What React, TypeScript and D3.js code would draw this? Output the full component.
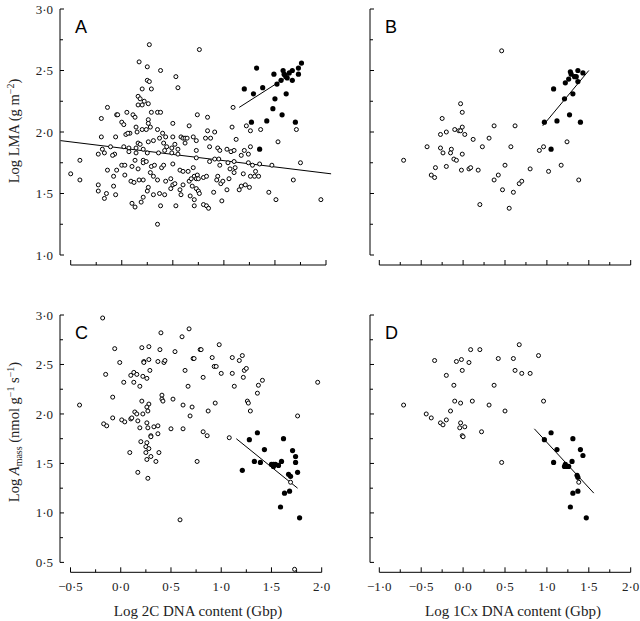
import React from "react";
import * as d3 from "d3";

type P = [number, number];

// ---- Tick values ----
const xTicks2C = [-0.5, -0.25, 0, 0.25, 0.5, 0.75, 1, 1.25, 1.5, 1.75, 2];
const xTicks1Cx = [-1, -0.75, -0.5, -0.25, 0, 0.25, 0.5, 0.75, 1, 1.25, 1.5, 1.75, 2];
const yTicksLMA = [1, 1.25, 1.5, 1.75, 2, 2.25, 2.5, 2.75, 3];
const yTicksAmass = [0.5, 0.75, 1, 1.25, 1.5, 1.75, 2, 2.25, 2.5, 2.75, 3];
const xLabels2C = [-0.5, 0, 0.5, 1, 1.5, 2];
const xLabels1Cx = [-1, -0.5, 0, 0.5, 1, 1.5, 2];
const yLabelsLMA = [1, 1.5, 2, 2.5, 3];
const yLabelsAmass = [0.5, 1, 1.5, 2, 2.5, 3];

// ---- Panel A: Log LMA vs Log 2C ----
const aOpen: P[] = [
  [0.27,2.71],[0.17,2.57],[0.25,2.53],[0.38,2.50],[0.53,2.45],[0.55,2.36],[0.25,2.42],[0.27,2.41],[0.20,2.35],[0.29,2.35],
  [0.16,2.29],[0.18,2.27],[0.22,2.25],[0.26,2.23],[0.16,2.22],[0.20,2.22],[-0.14,2.20],[-0.20,2.11],[-0.05,2.14],[-0.04,2.14],
  [0.05,2.16],[0.11,2.14],[0.13,2.12],[0.29,2.16],[0.35,2.16],[0.38,2.16],[0.26,2.10],[0.26,2.07],[0.50,2.07],[0.66,2.05],
  [0.14,2.04],[0.28,2.04],[0.00,2.08],[0.02,2.06],[-0.20,1.96],[-0.06,1.96],[0.08,1.99],[0.04,1.98],[0.06,1.99],[0.15,2.00],
  [0.20,2.02],[0.24,2.02],[0.35,2.02],[0.40,1.99],[0.43,1.96],[0.50,1.96],[0.58,1.96],[0.60,1.95],[0.62,1.95],[0.64,1.95],
  [0.70,1.96],[-0.11,1.88],[-0.19,1.86],[-0.07,1.82],[0.02,1.88],[0.07,1.87],[0.16,1.91],[0.18,1.90],[0.14,1.87],[0.21,1.86],
  [0.26,1.92],[0.31,1.93],[0.37,1.95],[0.41,1.91],[0.44,1.88],[0.49,1.87],[0.52,1.90],[0.55,1.86],[0.62,1.91],[0.73,1.93],
  [-0.23,1.82],[-0.17,1.83],[-0.09,1.81],[0.07,1.84],[0.14,1.83],[0.25,1.83],[0.36,1.83],[0.42,1.85],[0.49,1.83],[0.55,1.82],
  [-0.41,1.77],[-0.50,1.66],[-0.41,1.61],[-0.14,1.69],[-0.05,1.69],[0.00,1.73],[0.03,1.73],[0.10,1.72],[0.13,1.77],[0.21,1.77],
  [0.21,1.75],[0.24,1.76],[0.29,1.72],[0.32,1.73],[0.39,1.71],[0.41,1.73],[0.50,1.74],[0.57,1.69],[0.60,1.68],[0.65,1.68],
  [0.71,1.64],[0.74,1.65],[-0.23,1.57],[-0.08,1.64],[0.03,1.65],[0.09,1.60],[0.12,1.59],[0.16,1.70],[0.17,1.61],[0.21,1.61],
  [0.28,1.67],[0.31,1.64],[0.35,1.61],[0.43,1.60],[0.48,1.62],[0.50,1.57],[0.52,1.58],[0.60,1.57],[0.66,1.60],[0.69,1.56],
  [0.73,1.62],[-0.23,1.52],[-0.15,1.50],[-0.08,1.56],[-0.06,1.49],[-0.17,1.46],[0.10,1.42],[0.13,1.39],[0.19,1.43],[0.21,1.47],
  [0.25,1.52],[0.26,1.55],[0.31,1.49],[0.37,1.50],[0.42,1.49],[0.48,1.54],[0.53,1.40],[0.58,1.49],[0.67,1.48],[0.71,1.45],
  [0.73,1.54],[0.38,1.40],[0.35,1.25],[0.71,1.40],[0.74,2.14],
  [0.76,2.67],[0.84,2.12],[1.09,2.20],[1.08,2.04],[1.22,2.05],[1.26,2.01],[1.36,2.02],[1.71,2.02],[0.84,2.01],[0.91,2.00],
  [0.82,1.95],[0.87,1.95],[1.12,1.94],[1.53,1.92],[0.73,1.85],[0.86,1.88],[0.94,1.87],[0.96,1.85],[1.03,1.86],[1.07,1.84],
  [1.10,1.85],[1.20,1.85],[1.26,1.88],[1.17,1.81],[1.24,1.82],[0.73,1.79],[0.86,1.76],[0.91,1.78],[0.95,1.78],[1.04,1.75],
  [1.10,1.76],[1.24,1.75],[1.28,1.73],[1.35,1.74],[1.47,1.73],[1.75,1.75],[0.70,1.71],[0.96,1.73],[1.06,1.70],[1.11,1.71],
  [1.10,1.67],[1.19,1.66],[0.94,1.64],[1.31,1.68],[1.34,1.64],[1.30,1.64],[1.26,1.64],[1.05,1.62],[0.80,1.63],[0.83,1.64],
  [0.68,1.62],[0.75,1.62],[0.93,1.61],[0.97,1.58],[0.99,1.60],[0.57,1.53],[0.75,1.52],[0.76,1.50],[0.90,1.51],[1.03,1.53],
  [1.15,1.53],[1.17,1.56],[1.21,1.57],[1.25,1.55],[1.44,1.51],[1.68,1.61],[0.98,1.44],[1.51,1.45],[1.95,1.45],[0.80,1.41],
  [0.83,1.40],[0.85,1.38]
];
const aFilled: P[] = [
  [1.32,2.52],[1.76,2.56],[1.49,2.47],[1.58,2.50],[1.59,2.47],[1.62,2.44],[1.67,2.50],[1.73,2.52],[1.73,2.47],[1.56,2.42],
  [1.52,2.39],[1.67,2.42],[1.20,2.35],[1.29,2.31],[1.38,2.36],[1.50,2.27],[1.61,2.31],[1.48,2.19],[1.57,2.14],[1.27,2.08],
  [1.42,2.09],[1.70,2.08],[1.35,1.86],[1.60,2.46],[1.64,2.48]
];
const aOpenFit: P[] = [[-0.6, 1.93], [2.05, 1.66]];
const aFilledFit: P[] = [[1.15, 2.2], [1.64, 2.46]];

// ---- Panel B: Log LMA vs Log 1Cx ----
const bOpen: P[] = [
  [0.46,2.66],[-0.71,1.77],[-0.43,1.88],[-0.25,2.11],[-0.27,1.98],[-0.20,2.00],[-0.10,2.02],[-0.05,2.01],[-0.03,2.01],[-0.01,2.04],
  [0.02,1.98],[-0.03,2.23],[-0.01,2.16],[-0.27,1.87],[-0.24,1.83],[-0.14,1.86],[-0.15,1.83],[-0.11,1.78],[-0.08,1.77],[-0.01,1.82],
  [0.12,1.94],[0.23,1.88],[0.31,1.95],[0.37,2.05],[0.57,1.88],[0.62,2.05],[0.50,1.73],[-0.33,1.71],[-0.20,1.72],[-0.38,1.65],
  [-0.34,1.63],[-0.02,1.69],[0.07,1.70],[0.09,1.71],[0.18,1.69],[0.20,1.41],[0.37,1.61],[0.42,1.65],[0.47,1.53],[0.55,1.38],
  [0.60,1.51],[0.67,1.58],[0.70,1.60],[0.80,1.70],[0.91,1.85],[0.96,1.88],[1.02,1.68],[1.17,1.73],[1.24,1.92],[1.38,1.61]
];
const bFilled: P[] = [
  [1.28,2.49],[1.37,2.50],[1.29,2.47],[1.33,2.45],[1.43,2.48],[1.26,2.43],[1.22,2.40],[1.37,2.41],[1.08,2.35],[1.31,2.31],
  [1.21,2.27],[1.27,2.14],[0.97,2.08],[1.12,2.09],[1.40,2.08],[1.05,1.86],[1.35,2.45]
];
const bFit: P[] = [[0.95, 2.05], [1.5, 2.5]];

// ---- Panel C: Log Amass vs Log 2C ----
const cOpen: P[] = [
  [-0.18,2.97],[-0.41,2.09],[-0.06,2.66],[-0.01,2.52],[-0.15,2.40],[-0.08,2.17],[-0.17,1.90],[-0.14,1.88],[-0.08,1.96],[0.01,1.94],
  [0.04,1.92],[0.03,2.32],[0.10,2.39],[0.13,2.42],[0.16,2.40],[0.13,2.32],[0.19,2.28],[0.22,2.38],[0.26,2.36],[0.29,2.44],
  [0.23,2.53],[0.23,2.52],[0.28,2.55],[0.21,2.67],[0.28,2.68],[0.40,2.82],[0.39,2.65],[0.37,2.53],[0.43,2.52],[0.44,2.54],
  [0.54,2.63],[0.61,2.78],[0.68,2.86],[0.72,2.56],[0.79,2.65],[0.64,2.44],[0.67,2.28],[0.41,2.19],[0.41,2.15],[0.42,2.13],
  [0.52,2.15],[0.28,2.10],[0.26,2.07],[0.27,2.03],[0.21,2.13],[0.14,2.02],[0.16,2.00],[0.22,2.00],[0.10,1.95],[0.11,1.96],
  [0.17,1.93],[0.19,1.86],[0.26,1.91],[0.27,1.86],[0.33,1.87],[0.37,1.88],[0.37,1.80],[0.30,1.78],[0.30,1.77],[0.20,1.72],
  [0.26,1.71],[0.25,1.67],[0.28,1.65],[0.30,1.57],[0.25,1.61],[0.26,1.54],[0.38,1.61],[0.35,1.52],[0.09,1.61],[0.17,1.41],
  [0.27,1.35],[0.50,1.85],[0.62,1.85],[0.62,2.09],[0.71,2.07],[0.69,1.98],[0.59,0.93],[0.76,1.52],
  [0.80,2.65],[0.98,2.70],[0.73,2.56],[0.91,2.57],[0.93,2.48],[0.95,2.48],[1.00,2.41],[1.11,2.57],[1.18,2.54],[1.21,2.59],
  [1.23,2.44],[1.25,2.46],[1.11,2.41],[1.22,2.37],[1.13,2.28],[0.82,2.37],[1.41,2.34],[1.37,2.29],[1.36,2.21],[1.26,2.13],
  [1.27,2.11],[1.29,2.03],[0.94,2.11],[0.87,2.03],[1.96,2.32],[1.76,1.98],[0.82,1.82],[0.86,1.78],[1.08,1.76],[1.69,1.31],
  [1.73,0.43]
];
const cFilled: P[] = [
  [1.36,1.81],[1.28,1.74],[1.62,1.75],[1.43,1.64],[1.71,1.63],[1.74,1.57],[1.74,1.51],[1.33,1.52],[1.39,1.51],[1.60,1.52],
  [1.50,1.49],[1.52,1.47],[1.54,1.49],[1.57,1.48],[1.52,1.49],[1.21,1.43],[1.76,1.41],[1.67,1.39],[1.69,1.37],[1.68,1.22],
  [1.63,1.20],[1.59,1.06],[1.78,0.95]
];
const cFit: P[] = [[1.15, 1.75], [1.76, 1.25]];

// ---- Panel D: Log Amass vs Log 1Cx ----
const dOpen: P[] = [
  [-0.71,2.09],[-0.44,2.00],[-0.38,1.96],[-0.34,2.54],[-0.27,1.91],[-0.24,1.89],[-0.20,1.94],[-0.20,2.39],[-0.15,2.03],[-0.11,2.29],
  [-0.10,2.13],[-0.08,2.53],[-0.02,2.55],[-0.01,2.44],[-0.03,2.11],[-0.03,1.91],[-0.04,1.86],[0.02,1.87],[-0.01,1.78],[0.00,1.77],
  [0.07,2.52],[0.09,2.65],[0.11,2.13],[0.20,2.65],[0.22,1.82],[0.31,2.09],[0.37,2.29],[0.42,2.56],[0.50,2.03],[0.46,1.51],
  [0.60,2.56],[0.62,2.44],[0.67,2.70],[0.70,2.41],[0.80,2.41],[0.90,2.59],[0.96,2.13],[1.38,1.31]
];
const dFilled: P[] = [
  [0.97,1.74],[1.05,1.81],[1.12,1.64],[1.08,1.51],[1.22,1.49],[1.24,1.47],[1.26,1.47],[1.30,1.52],[1.31,1.75],[1.40,1.64],
  [1.43,1.58],[1.36,1.38],[1.37,1.36],[1.31,1.20],[1.37,1.22],[1.28,1.06],[1.47,0.95],[1.21,1.47]
];
const dFit: P[] = [[0.85, 1.85], [1.56, 1.2]];

const fmt = (v: number) => d3.format(".1f")(v).replace(".", "\u00B7").replace("-", "\u2212");

type Panel = {
  letter: string;
  xDomain: [number, number];
  xRange: [number, number];
  yDomain: [number, number];
  yRange: [number, number];
  yAxisX: number;
  xAxisY: number;
  xTicks: number[];
  yTicks: number[];
  xLabels: number[];
  yLabels: number[];
  open: P[];
  filled: P[];
  fits: P[][];
};

const panels: Panel[] = [
  { letter: "A", xDomain: [-0.5, 2], xRange: [70.7, 326], yDomain: [1, 3], yRange: [255, 9], yAxisX: 60, xAxisY: 265,
    xTicks: xTicks2C, yTicks: yTicksLMA, xLabels: [], yLabels: yLabelsLMA, open: aOpen, filled: aFilled, fits: [aOpenFit, aFilledFit] },
  { letter: "B", xDomain: [-1, 2], xRange: [379.3, 630.7], yDomain: [1, 3], yRange: [255, 9], yAxisX: 370, xAxisY: 265,
    xTicks: xTicks1Cx, yTicks: yTicksLMA, xLabels: [], yLabels: [], open: bOpen, filled: bFilled, fits: [bFit] },
  { letter: "C", xDomain: [-0.5, 2], xRange: [70.5, 321.7], yDomain: [0.5, 3], yRange: [562.4, 315], yAxisX: 60, xAxisY: 572.3,
    xTicks: xTicks2C, yTicks: yTicksAmass, xLabels: xLabels2C, yLabels: yLabelsAmass, open: cOpen, filled: cFilled, fits: [cFit] },
  { letter: "D", xDomain: [-1, 2], xRange: [379.3, 630.7], yDomain: [0.5, 3], yRange: [562.4, 315], yAxisX: 370, xAxisY: 572.3,
    xTicks: xTicks1Cx, yTicks: yTicksAmass, xLabels: xLabels1Cx, yLabels: [], open: dOpen, filled: dFilled, fits: [dFit] },
];

const SERIF = "'Liberation Serif', 'Times New Roman', serif";
const SANS = "'Liberation Sans', Arial, sans-serif";

function PanelView({ p }: { p: Panel }) {
  const x = d3.scaleLinear().domain(p.xDomain).range(p.xRange);
  const y = d3.scaleLinear().domain(p.yDomain).range(p.yRange);
  const line = d3.line<P>().x((d) => x(d[0])).y((d) => y(d[1]));
  const isMajor = (v: number) => Math.abs(v * 2 - Math.round(v * 2)) < 1e-6;
  return (
    <g>
      <line x1={p.yAxisX} x2={p.yAxisX} y1={y(p.yDomain[0])} y2={y(p.yDomain[1])} stroke="#000" strokeWidth={1} />
      {p.yTicks.map((t) => (
        <line key={"yt" + t} x1={p.yAxisX} x2={p.yAxisX + (isMajor(t) ? 4 : 3)} y1={y(t)} y2={y(t)} stroke="#000" strokeWidth={1} />
      ))}
      {p.yLabels.map((t) => (
        <text key={"yl" + t} x={p.yAxisX - 7} y={y(t)} dy="0.35em" textAnchor="end" fontFamily={SERIF} fontSize={13} fill="#222">
          {fmt(t)}
        </text>
      ))}
      <line x1={x(p.xDomain[0])} x2={x(p.xDomain[1])} y1={p.xAxisY} y2={p.xAxisY} stroke="#000" strokeWidth={1} />
      {p.xTicks.map((t) => (
        <line key={"xt" + t} x1={x(t)} x2={x(t)} y1={p.xAxisY} y2={p.xAxisY - (isMajor(t) ? 5 : 3)} stroke="#000" strokeWidth={1} />
      ))}
      {p.xLabels.map((t) => (
        <text key={"xl" + t} x={x(t)} y={p.xAxisY + 19} textAnchor="middle" fontFamily={SERIF} fontSize={13} fill="#222">
          {fmt(t)}
        </text>
      ))}
      {p.fits.map((f, i) => (
        <path key={"f" + i} d={line(f) || ""} fill="none" stroke="#000" strokeWidth={1} />
      ))}
      {p.open.map((d, i) => (
        <circle key={"o" + i} cx={x(d[0])} cy={y(d[1])} r={2} fill="#fff" stroke="#000" strokeWidth={1} />
      ))}
      {p.filled.map((d, i) => (
        <circle key={"c" + i} cx={x(d[0])} cy={y(d[1])} r={2.6} fill="#000" stroke="none" />
      ))}
      <text x={p.yAxisX + 15} y={y(p.yDomain[1]) + 24} fontFamily={SANS} fontSize={18} fill="#000">
        {p.letter}
      </text>
    </g>
  );
}

export default function App() {
  return (
    <svg width={640} height={621} style={{ position: "absolute", left: 0, top: 0, background: "#fff" }}>
      <rect x={0} y={0} width={640} height={621} fill="#fff" />
      {panels.map((p) => (
        <PanelView key={p.letter} p={p} />
      ))}
      <text transform="translate(19,131) rotate(-90)" textAnchor="middle" fontFamily={SERIF} fontSize={14.5} fill="#222">
        Log LMA (g m<tspan dy={-5} fontSize={10}>−2</tspan><tspan dy={5}>)</tspan>
      </text>
      <text transform="translate(19,432) rotate(-90)" textAnchor="middle" fontFamily={SERIF} fontSize={14.5} fill="#222">
        Log <tspan fontStyle="italic">A</tspan><tspan dy={3} fontSize={10}>mass</tspan><tspan dy={-3}> (nmol g</tspan>
        <tspan dy={-5} fontSize={10}>−1</tspan><tspan dy={5}> s</tspan><tspan dy={-5} fontSize={10}>−1</tspan><tspan dy={5}>)</tspan>
      </text>
      <text x={198} y={616} textAnchor="middle" fontFamily={SERIF} fontSize={15} fill="#222">
        Log 2C DNA content (Gbp)
      </text>
      <text x={513} y={616} textAnchor="middle" fontFamily={SERIF} fontSize={15} fill="#222">
        Log 1Cx DNA content (Gbp)
      </text>
    </svg>
  );
}
